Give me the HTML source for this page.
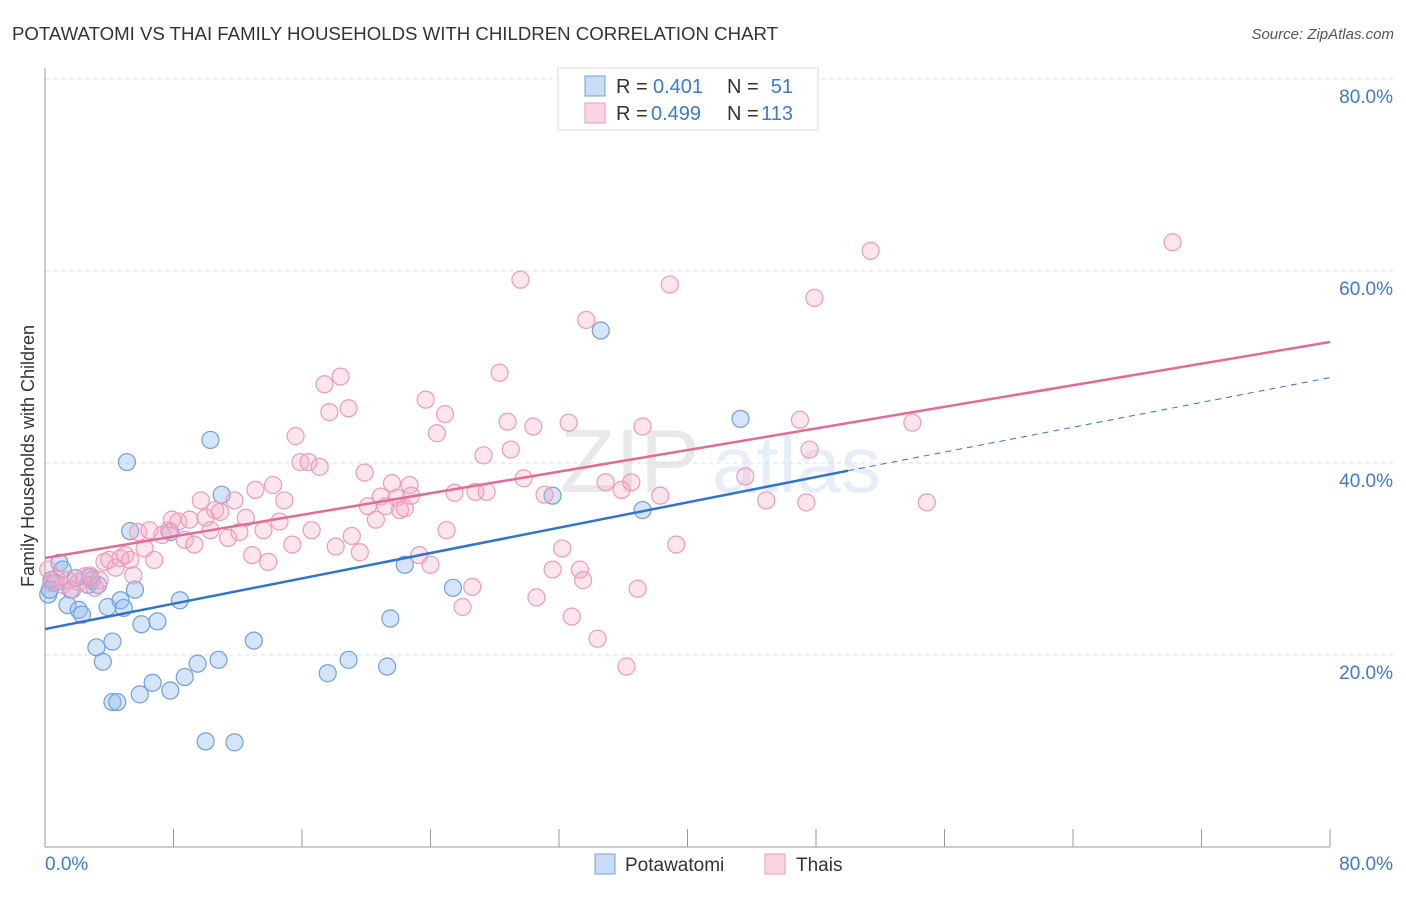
<!DOCTYPE html>
<html><head><meta charset="utf-8">
<style>
body{margin:0;background:#fff;font-family:"Liberation Sans",sans-serif;}
svg text{font-family:"Liberation Sans",sans-serif;}
</style></head>
<body>
<svg id="chart" width="1406" height="892" viewBox="0 0 1406 892" xmlns="http://www.w3.org/2000/svg">
<text x="12" y="40" font-size="18" fill="#333" textLength="766" lengthAdjust="spacingAndGlyphs">POTAWATOMI VS THAI FAMILY HOUSEHOLDS WITH CHILDREN CORRELATION CHART</text>
<text x="1394" y="39" font-size="15" fill="#555" text-anchor="end" font-style="italic">Source: ZipAtlas.com</text>
<text transform="translate(34,456) rotate(-90)" font-size="18" fill="#333" text-anchor="middle">Family Households with Children</text>
<g opacity="0.12">
<text x="560" y="492" font-size="90" font-family="Liberation Serif" fill="#555">ZIP</text>
<text x="712" y="492" font-size="80" fill="#3b7bd4">atlas</text>
</g>
<g id="grid"></g>
<g id="axes"></g>
<g id="blue"></g>
<g id="pink"></g>
<g id="trends"></g>
<g>
<rect x="558" y="68" width="260" height="62" fill="#fff" stroke="#ddd"/>
<rect x="585" y="76" width="20" height="20" fill="rgba(147,187,240,0.5)" stroke="#6fa0e0"/>
<rect x="585" y="103" width="20" height="20" fill="rgba(244,170,195,0.5)" stroke="#ee9ab8"/>
<text x="616" y="93" font-size="20" fill="#333">R =</text>
<text x="653" y="93" font-size="20" fill="#3b7bd4">0.401</text>
<text x="727" y="93" font-size="20" fill="#333">N =</text>
<text x="793" y="93" font-size="20" fill="#3b7bd4" text-anchor="end">51</text>
<text x="616" y="120" font-size="20" fill="#333">R =</text>
<text x="651" y="120" font-size="20" fill="#3b7bd4">0.499</text>
<text x="727" y="120" font-size="20" fill="#333">N =</text>
<text x="793" y="120" font-size="20" fill="#3b7bd4" text-anchor="end">113</text>
</g>
<g>
<rect x="595" y="854" width="20" height="20" fill="rgba(147,187,240,0.5)" stroke="#6fa0e0"/>
<text x="625" y="871" font-size="19" fill="#333">Potawatomi</text>
<rect x="765" y="854" width="20" height="20" fill="rgba(244,170,195,0.5)" stroke="#ee9ab8"/>
<text x="796" y="871" font-size="19" fill="#333">Thais</text>
</g>
</svg>
<script>
const yTicks=[20,40,60,80];
const yTickLabels=["20.0%","40.0%","60.0%","80.0%"];
const xTicks=[0,8,16,24,32,40,48,56,64,72,80];
const blueX=[0.2,0.4,0.6,0.9,1.1,1.4,1.6,1.9,2.1,2.3,2.7,2.9,3.2,3.3,3.6,3.9,4.2,4.2,4.5,4.7,4.9,5.1,5.3,5.6,5.9,6.0,6.7,7.0,7.8,8.4,8.7,9.5,10.0,10.3,10.8,11.0,11.8,13.0,17.6,18.9,21.3,21.5,22.4,25.4,31.6,34.6,37.2,43.3,7.8,2.8,0.3];
const blueY=[26.3,27.8,27.5,29.6,28.9,25.2,26.8,28.0,24.7,24.2,27.3,27.8,20.8,27.3,19.3,25.0,21.4,15.1,15.1,25.7,24.9,40.1,32.9,26.8,15.9,23.2,17.1,23.5,16.3,25.7,17.7,19.1,11.0,42.4,19.5,36.7,10.9,21.5,18.1,19.5,18.8,23.8,29.4,27.0,36.6,53.8,35.1,44.6,32.8,28.1,26.8];
const pinkX=[0.2,0.4,0.7,1.1,1.4,1.7,2.1,2.5,2.8,3.1,3.4,3.7,4.0,4.4,4.7,5.0,5.3,5.5,5.8,6.2,6.5,6.8,7.3,7.7,7.9,8.3,8.7,9.0,9.3,9.7,10.0,10.3,10.6,10.9,11.4,11.8,12.1,12.5,12.9,13.1,13.6,13.9,14.2,14.6,14.9,15.4,15.6,15.9,16.4,16.6,17.1,17.4,17.7,18.1,18.4,18.9,19.1,19.6,19.9,20.1,20.6,20.9,21.2,21.6,21.9,22.1,22.4,22.7,22.8,23.3,23.7,24.0,24.4,24.9,25.0,25.5,26.0,26.6,26.8,27.3,27.5,28.3,28.8,29.0,29.6,29.8,30.4,30.6,31.1,31.6,32.2,32.6,32.8,33.3,33.5,33.7,34.4,34.9,35.9,36.2,36.5,36.9,37.2,38.3,38.9,39.3,43.6,44.9,47.0,47.4,47.6,47.9,51.4,54.0,54.9,70.2];
const pinkY=[28.9,27.5,28.0,27.3,27.8,26.8,27.6,28.2,28.3,27.0,27.8,29.7,29.9,29.1,30.1,30.4,29.9,28.3,32.8,31.1,33.0,29.9,32.5,33.0,34.1,33.9,32.0,34.1,31.5,36.1,34.3,33.0,35.1,34.9,32.2,36.1,32.8,34.3,30.4,37.2,33.0,29.7,37.7,33.9,36.1,31.5,42.8,40.1,40.1,33.0,39.6,48.2,45.3,31.3,49.0,45.7,32.4,30.7,39.0,35.5,34.1,36.5,35.5,37.9,36.4,35.1,35.3,37.7,36.6,30.4,46.6,29.4,43.1,45.1,33.0,36.9,25.0,27.1,37.0,40.8,37.0,49.4,44.3,41.4,59.1,38.4,43.8,26.0,36.7,28.9,31.1,44.2,24.0,28.9,27.8,54.9,21.7,38.0,37.2,18.8,38.0,26.9,43.8,36.6,58.6,31.5,38.6,36.1,44.5,35.9,41.4,57.2,62.1,44.2,35.9,63.0];
const blueTrend=[22.7,39.2,48.9]; // y at x=0, x=50 (solid end), x=80 (dashed end)
const pinkTrend=[30.1,52.6]; // y at x=0, x=80
const NS="http://www.w3.org/2000/svg";
const X=v=>45+v/80*1285;
const Y=v=>847-v/20*192;
function mk(tag,attrs,parent){const e=document.createElementNS(NS,tag);for(const k in attrs)e.setAttribute(k,attrs[k]);parent.appendChild(e);return e;}
const grid=document.getElementById('grid'),axes=document.getElementById('axes');
yTicks.forEach((t,i)=>{
 const l=mk('line',{x1:45,x2:1394,y1:Y(t),y2:Y(t),stroke:'#ddd','stroke-dasharray':'4,4'},grid);
 
 
 const tx=mk('text',{x:1393,y:Y(t)+24,'font-size':19,fill:'#3b7bd4','text-anchor':'end'},axes);
 tx.textContent=yTickLabels[i];
 
 
});
mk('line',{x1:45,x2:45,y1:68,y2:847,stroke:'#999'},axes);
mk('line',{x1:45,x2:1330,y1:847,y2:847,stroke:'#999'},axes);
xTicks.forEach(t=>{const l=mk('line',{x1:X(t),x2:X(t),y1:829,y2:847,stroke:'#999'},axes);
 
 });
const x0=mk('text',{x:45,y:870,'font-size':19,fill:'#3b7bd4'},axes);x0.textContent="0.0%";


const x1=mk('text',{x:1393,y:870,'font-size':19,fill:'#3b7bd4','text-anchor':'end'},axes);x1.textContent="80.0%";


const bg=document.getElementById('blue'),pg=document.getElementById('pink');
blueX.forEach((v,i)=>{const c=mk('circle',{cx:X(v),cy:Y(blueY[i]),r:8.5,fill:'rgba(147,187,240,0.4)',stroke:'#6fa0e0','stroke-width':1.2},bg);
 
 });
pinkX.forEach((v,i)=>{const c=mk('circle',{cx:X(v),cy:Y(pinkY[i]),r:8.5,fill:'rgba(244,170,195,0.3)',stroke:'#ee9ab8','stroke-width':1.2},pg);
 
 });
const tg=document.getElementById('trends');
let t1=mk('line',{x1:X(0),y1:Y(blueTrend[0]),x2:X(50),y2:Y(blueTrend[1]),stroke:'#2f74d0','stroke-width':2.5},tg);


let t2=mk('line',{x1:X(50),y1:Y(blueTrend[1]),x2:X(80),y2:Y(blueTrend[2]),stroke:'#2f74d0','stroke-width':1,'stroke-dasharray':'6,5'},tg);


let t3=mk('line',{x1:X(0),y1:Y(pinkTrend[0]),x2:X(80),y2:Y(pinkTrend[1]),stroke:'#e46a95','stroke-width':2.5},tg);


</script>
</body></html>
